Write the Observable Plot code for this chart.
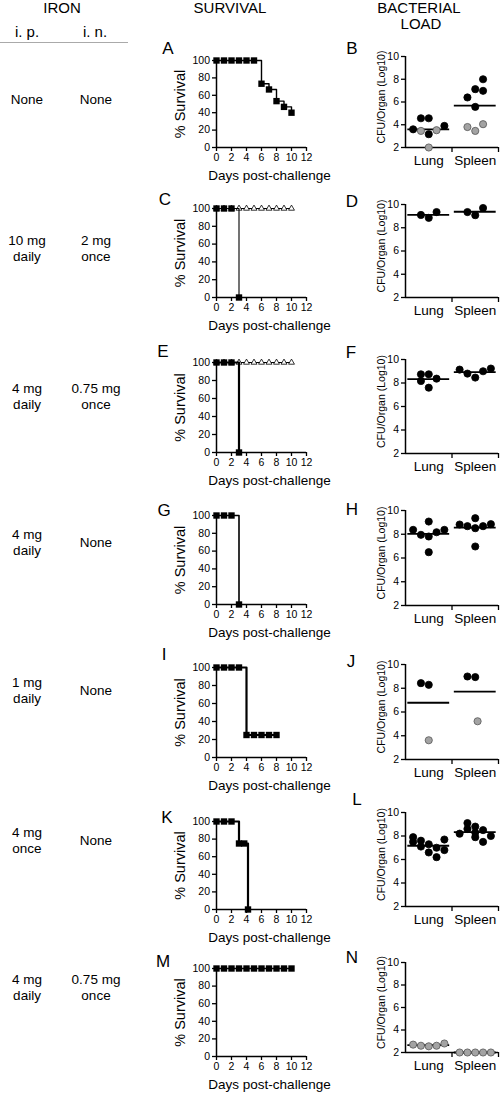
<!DOCTYPE html>
<html><head><meta charset="utf-8">
<script src="https://cdn.jsdelivr.net/npm/d3@7"></script>
<script src="https://cdn.jsdelivr.net/npm/@observablehq/plot@0.6"></script>
<style>
body{margin:0;background:#fff;font-family:"Liberation Sans",Arial,sans-serif;}
#wrap{position:relative;width:500px;height:1095px;overflow:hidden;background:#fff}
.t{position:absolute;transform:translate(-50%,-50%);white-space:pre;color:#000;text-align:center;line-height:16px}
.p{position:absolute}
</style></head><body><div id="wrap"></div>
<script>
// ---------- headers / row labels ----------
const headers = ["IRON", "SURVIVAL", "BACTERIAL", "LOAD"];
const subHeaders = ["i. p.", "i. n."];
const ipDose = ["None", "10 mg\ndaily", "4 mg\ndaily", "4 mg\ndaily", "1 mg\ndaily", "4 mg\nonce", "4 mg\ndaily"];
const inDose = ["None", "2 mg\nonce", "0.75 mg\nonce", "None", "None", "None", "0.75 mg\nonce"];
const survivalLetters = ["A", "C", "E", "G", "I", "K", "M"];
const loadLetters = ["B", "D", "F", "H", "J", "L", "N"];
const organs = ["Lung", "Spleen"];

// ---------- survival data (days, % survival) ----------
const daysA = [0, 1, 2, 3, 4, 5, 6, 7, 8, 9, 10];
const survA = [100, 100, 100, 100, 100, 100, 73.3, 66.7, 53.3, 46.7, 40];
const daysC = [0, 1, 2, 3];
const survC = [100, 100, 100, 0];
const daysCopen = [0, 1, 2, 3, 4, 5, 6, 7, 8, 9, 10];
const survCopen = [100, 100, 100, 100, 100, 100, 100, 100, 100, 100, 100];
const daysE = [0, 1, 2, 3];
const survE = [100, 100, 100, 0];
const daysEopen = [0, 1, 2, 3, 4, 5, 6, 7, 8, 9, 10];
const survEopen = [100, 100, 100, 100, 100, 100, 100, 100, 100, 100, 100];
const daysG = [0, 1, 2, 3];
const survG = [100, 100, 100, 0];
const daysI = [0, 1, 2, 3, 4, 5, 6, 7, 8];
const survI = [100, 100, 100, 100, 25, 25, 25, 25, 25];
const daysK = [0, 1, 2, 3, 3.7, 4.2];
const survK = [100, 100, 100, 75, 75, 0];
const daysM = [0, 1, 2, 3, 4, 5, 6, 7, 8, 9, 10];
const survM = [100, 100, 100, 100, 100, 100, 100, 100, 100, 100, 100];

// ---------- bacterial load data (log10 CFU), grey flag, column slot ----------
const lungB = [3.6, 3.46, 4.57, 4.57, 3.17, 2.0, 3.52, 3.9];
const lungBgrey = [0, 1, 0, 0, 0, 1, 1, 0];
const lungBslot = [-2, -1, -1, 0, 0, 0, 1, 2];
const spleenB = [8.0, 7.13, 6.98, 6.4, 5.57, 3.8, 3.46, 4.05];
const spleenBgrey = [0, 0, 0, 0, 0, 1, 1, 1];
const spleenBslot = [1, 0, 1, -1, 0, -1, 0, 1];

const lungD = [9.1, 8.85, 9.35];
const lungDgrey = [0, 0, 0];
const lungDslot = [-1, 0, 1];
const spleenD = [9.35, 9.08, 9.7];
const spleenDgrey = [0, 0, 0];
const spleenDslot = [-1, 0, 1];

const lungF = [8.74, 8.74, 8.17, 8.37, 7.6];
const lungFgrey = [0, 0, 0, 0, 0];
const lungFslot = [-1, 0, -1, 1, 0];
const spleenF = [9.14, 8.8, 8.46, 9.0, 9.23];
const spleenFgrey = [0, 0, 0, 0, 0];
const spleenFslot = [-2, -1, 0, 1, 2];

const lungH = [8.37, 7.95, 9.07, 7.81, 8.17, 8.37, 6.49];
const lungHgrey = [0, 0, 0, 0, 0, 0, 0];
const lungHslot = [-2, -1, 0, 0, 1, 2, 0];
const spleenH = [8.82, 8.68, 9.35, 8.51, 8.68, 8.85, 6.97];
const spleenHgrey = [0, 0, 0, 0, 0, 0, 0];
const spleenHslot = [-2, -1, 0, 0, 1, 2, 0];

const lungJ = [8.43, 8.29, 3.62];
const lungJgrey = [0, 0, 1];
const lungJslot = [-1, 0, 0];
const spleenJ = [8.99, 8.94, 5.22];
const spleenJgrey = [0, 0, 1];
const spleenJslot = [-1, 0, 0.3];

const lungL = [7.9, 7.6, 7.3, 7.0, 6.8, 7.5, 7.1, 6.6, 6.2, 7.7];
const lungLgrey = [0, 0, 0, 0, 0, 0, 0, 0, 0, 0];
const lungLslot = [-2, -1, 0, 1, 2, -2, -1, 0, 1, 2];
const spleenL = [9.1, 8.8, 8.5, 8.2, 8.0, 8.6, 7.9, 7.5, 8.3];
const spleenLgrey = [0, 0, 0, 0, 0, 0, 0, 0, 0];
const spleenLslot = [-1, 0, 1, -2, 2, -1, 0, 1, 0];

const lungN = [2.7, 2.6, 2.55, 2.6, 2.8];
const lungNgrey = [1, 1, 1, 1, 1];
const lungNslot = [-2, -1, 0, 1, 2];
const spleenN = [2.0, 2.0, 2.0, 2.0, 2.0];
const spleenNgrey = [1, 1, 1, 1, 1];
const spleenNslot = [-2, -1, 0, 1, 2];

// ---------- layout ----------
const W = document.getElementById("wrap");
const FONT = '"Liberation Sans", Arial, Helvetica, sans-serif';
function txt(s, x, y, size) {
  const d = document.createElement("div");
  d.className = "t";
  d.textContent = s;
  d.style.left = x + "px"; d.style.top = y + "px"; d.style.fontSize = size + "px";
  d.style.fontFamily = FONT;
  W.appendChild(d);
  return d;
}
function place(svg, left, top, width) {
  const d = document.createElement("div");
  d.className = "p";
  d.style.left = left + "px"; d.style.top = top + "px"; d.style.width = width + "px";
  d.appendChild(svg);
  W.appendChild(d);
}

// headers
txt(headers[0], 62, 8, 15);
txt(headers[1], 230, 8, 15);
txt(headers[2], 419, 8, 15);
txt(headers[3], 421, 24, 15);
txt(subHeaders[0], 27, 32, 15);
txt(subHeaders[1], 95, 32, 15);
const hr = document.createElement("div");
hr.style.cssText = "position:absolute;left:0;top:42px;width:128px;height:0;border-top:1.5px solid #aaa";
W.appendChild(hr);

// row labels
const rowY = [100, 249, 397, 543, 691, 841, 988];
ipDose.forEach((s, i) => txt(s, 27, rowY[i], 13.5));
inDose.forEach((s, i) => txt(s, 96, rowY[i], 13.5));

const baseStyle = {background: "transparent", overflow: "visible", fontFamily: FONT, fontSize: "10px", color: "#000"};

function survivalPanel(y100, span, series) {
  const mt = 10, mb = 45, ml = 66, mr = 14, width = 170;
  const marks = [
    Plot.axisY({ticks: d3.range(0, 101, 20), tickSize: 4, tickPadding: 2.5, strokeWidth: 1.3, fontSize: 10.5, label: null}),
    Plot.axisX({ticks: d3.range(0, 13, 2), tickSize: 4, tickPadding: 2, strokeWidth: 1.3, fontSize: 10.5, label: null}),
    Plot.ruleX([0], {stroke: "#000", strokeWidth: 1.5}),
    Plot.ruleY([0], {stroke: "#000", strokeWidth: 1.5}),
    Plot.text(["% Survival"], {text: d => d, frameAnchor: "left", textAnchor: "middle", lineAnchor: "middle", dx: -36, rotate: -90, fontSize: 14.5}),
    Plot.text(["Days post-challenge"], {text: d => d, frameAnchor: "bottom", textAnchor: "middle", lineAnchor: "middle", dx: 8, dy: 28, fontSize: 13.5})
  ];
  for (const s of series) {
    const data = s.days.map((d, i) => ({day: d, pct: s.pct[i]}));
    marks.push(Plot.line(data, {x: "day", y: "pct", curve: "step-after", stroke: "#000", strokeWidth: s.lw}));
    marks.push(Plot.dot(data, {x: "day", y: "pct", symbol: s.symbol, r: s.r, fill: s.fill, stroke: "#000", strokeWidth: s.sw}));
  }
  const svg = Plot.plot({
    width, height: mt + span + mb, marginTop: mt, marginBottom: mb, marginLeft: ml, marginRight: mr,
    x: {domain: [0, 12]}, y: {domain: [0, 100]},
    style: baseStyle, marks
  });
  place(svg, 150, y100 - mt, width);
}

function loadPanel(y10, span, lung, lungGrey, lungSlot, spleen, spleenGrey, spleenSlot) {
  const mt = 8, mb = 30, ml = 75, mr = 2, width = 170;
  const pts = [];
  lung.forEach((v, i) => pts.push({organ: 1, v, grey: lungGrey[i], slot: lungSlot[i]}));
  spleen.forEach((v, i) => pts.push({organ: 2, v, grey: spleenGrey[i], slot: spleenSlot[i]}));
  const means = [{organ: 1, m: d3.mean(lung)}, {organ: 2, m: d3.mean(spleen)}];
  const svg = Plot.plot({
    width, height: mt + span + mb, marginTop: mt, marginBottom: mb, marginLeft: ml, marginRight: mr,
    x: {domain: [0.5, 2.5]}, y: {domain: [2, 10]},
    style: baseStyle,
    marks: [
      Plot.axisY({ticks: [2, 4, 6, 8, 10], tickSize: 4, tickPadding: 2.5, strokeWidth: 1.3, fontSize: 10.5, label: null}),
      Plot.axisX({ticks: [1.5, 2.5], tickSize: 5, strokeWidth: 1.3, tickFormat: () => "", label: null}),
      Plot.axisX({ticks: [1, 2], tickSize: 0, tickPadding: 8, fontSize: 13.5, tickFormat: d => organs[d - 1], label: null}),
      Plot.ruleX([0.5], {stroke: "#000", strokeWidth: 1.5}),
      Plot.ruleY([2], {stroke: "#000", strokeWidth: 1.5}),
      Plot.text(["CFU/Organ (Log10)"], {text: d => d, frameAnchor: "left", textAnchor: "middle", lineAnchor: "middle", dx: -24, dy: -5, rotate: -90, fontSize: 10.5}),
      Plot.ruleY(means, {y: "m", x1: d => d.organ - 0.45, x2: d => d.organ + 0.45, stroke: "#000", strokeWidth: 1.8}),
      Plot.dot(pts, {x: d => d.organ + d.slot * 0.168, y: "v", r: 3.6, fill: d => d.grey ? "#a3a3a3" : "#000", stroke: d => d.grey ? "#555" : "#000", strokeWidth: 0.8})
    ]
  });
  place(svg, 330, y10 - mt, width);
}

const sq = (days, pct, lw) => ({days, pct, lw, symbol: "square", r: 3.6, fill: "#000", sw: 0});
const tri = (days, pct) => ({days, pct, lw: 1, symbol: "triangle", r: 2.2, fill: "#fff", sw: 0.8});

survivalPanel(60, 87, [sq(daysA, survA, 1.4)]);
survivalPanel(208, 89, [tri(daysCopen, survCopen), sq(daysC, survC, 1.1)]);
survivalPanel(362, 90, [tri(daysEopen, survEopen), sq(daysE, survE, 2.2)]);
survivalPanel(515, 89, [sq(daysG, survG, 1.6)]);
survivalPanel(667, 90, [sq(daysI, survI, 2.2)]);
survivalPanel(821, 88, [sq(daysK, survK, 2.2)]);
survivalPanel(968, 88, [sq(daysM, survM, 1.6)]);

loadPanel(56, 91, lungB, lungBgrey, lungBslot, spleenB, spleenBgrey, spleenBslot);
loadPanel(204, 93, lungD, lungDgrey, lungDslot, spleenD, spleenDgrey, spleenDslot);
loadPanel(359, 94, lungF, lungFgrey, lungFslot, spleenF, spleenFgrey, spleenFslot);
loadPanel(510, 95, lungH, lungHgrey, lungHslot, spleenH, spleenHgrey, spleenHslot);
loadPanel(664, 95, lungJ, lungJgrey, lungJslot, spleenJ, spleenJgrey, spleenJslot);
loadPanel(812, 94, lungL, lungLgrey, lungLslot, spleenL, spleenLgrey, spleenLslot);
loadPanel(962, 90, lungN, lungNgrey, lungNslot, spleenN, spleenNgrey, spleenNslot);

// panel letters
const sLetterPos = [[168, 49], [165, 200], [163, 352], [164, 511], [164, 655], [167, 818], [163, 962]];
const lLetterPos = [[352, 49], [352, 202], [351, 353], [352, 510], [351, 662], [357, 800], [352, 958]];
survivalLetters.forEach((s, i) => txt(s, sLetterPos[i][0], sLetterPos[i][1], 17));
loadLetters.forEach((s, i) => txt(s, lLetterPos[i][0], lLetterPos[i][1], 17));
</script></body></html>
